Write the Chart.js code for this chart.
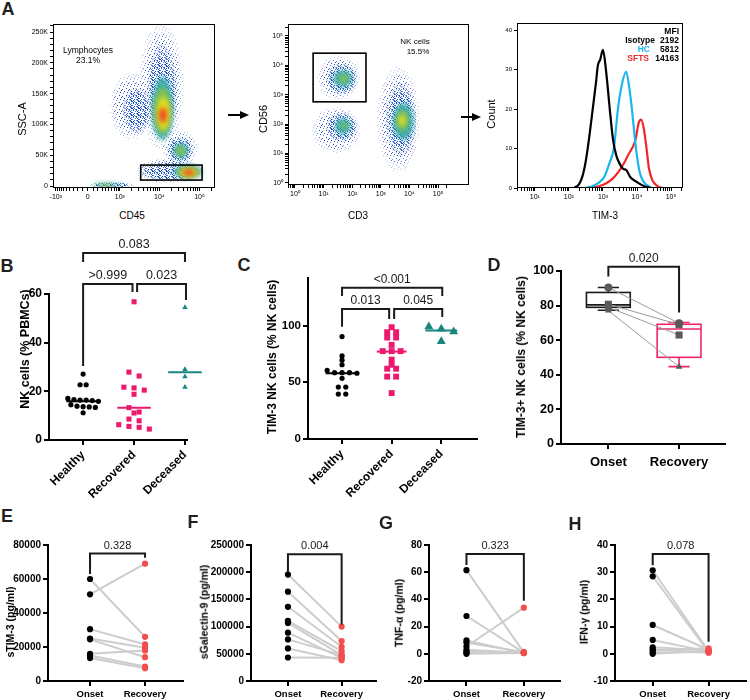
<!DOCTYPE html>
<html>
<head>
<meta charset="utf-8">
<script src="https://cdn.jsdelivr.net/npm/chart.js@4.4.1/dist/chart.umd.min.js"></script>
<style>
body{margin:0;background:#fff;width:750px;height:700px;position:relative;overflow:hidden;font-family:"Liberation Sans",Arial,sans-serif;}
canvas{position:absolute;}
.t{position:absolute;white-space:nowrap;line-height:1;}
</style>
</head>
<body>
<svg width="750" height="700" style="position:absolute;left:0;top:0">
<line x1="228" y1="115" x2="242" y2="115" stroke="#000" stroke-width="2"/>
<polygon points="249,115 240,111 240,119" fill="#000"/>
<line x1="461" y1="117" x2="474" y2="117" stroke="#000" stroke-width="2"/>
<polygon points="481,117 472,113 472,121" fill="#000"/>
</svg>
<script>
// ---------- A: flow plots ----------
// blobs: [xLow, xHigh, yLow, yHigh, density level 0..5]
const lymphBlobs = [
[3000,40000,60000,262000,0],[535,6850,75000,183000,0],[12000,90000,30000,90000,0],[2500,120000,5000,45000,0],
[4870,27500,75000,230000,1],[1200,6000,85000,160000,1],[15400,69000,37000,80000,1],[3230,114000,8000,40000,1],[37,2160,-3000,6500,1],
[6520,21800,75000,177000,2],[21800,51600,45000,70000,2],[21800,114000,13000,34000,2],[100,1200,-2000,4000,2],
[7500,19000,85000,160000,3],[26000,45000,50000,64000,3],[28000,100000,14000,31000,3],[178,650,-1500,3000,3],
[8640,18260,91000,144000,4],[32600,87000,14600,29000,4],
[9750,15400,102000,128000,5],[38000,75000,17000,27000,5]
];
const lymphGate = [3400,116000,9700,34000];
const nkBlobs = [
[6,186,660,22000,0],[4,186,10.5,380,0],[740,23000,2.2,8900,0],
[12,150,1000,12000,1],[12,150,25,250,1],[1500,17000,8,2500,1],
[22,100,1800,7000,2],[25,90,45,160,2],[2700,13500,29,525,2],
[35,70,2500,5000,3],[40,65,70,110,3],[3500,9000,60,300,3],
[4300,7000,90,200,4]
];
const nkGate = [4.3,302,575,26000];
const isoX = [141,200,251,316,398,501,631,708,832,1000,1259,1585,1995,2512,3162,3981,4786,6310,10000,15849,25119];
const isoY = [0,1,3,7,13,20,27,31,32.5,35,29,20,12,8,6,4.8,4.6,2.8,1.5,0.5,0];
const hcX = [316,501,794,1122,1585,2089,2754,3548,4786,6026,7079,9333,12023,15849,22387,28184];
const hcY = [0,0.5,1.5,3,6.5,10,20,26,29.5,25,20,10,4,1.5,0.4,0];
const sftsX = [398,794,1259,1995,2818,3981,5623,7079,8913,11220,13183,15849,19055,22387,28184,39811,56234];
const sftsY = [0,0.5,1.2,2.5,4,6,8.5,10,12,16.5,17.3,15,10,5,2,0.5,0];

// ---------- B, C: dot plots ----------
const groups = ['Healthy','Recovered','Deceased'];
const nkHealthy = [27.1,22.7,22.7,16.6,15.9,16.4,16.2,16.4,17.1,14.5,13.7,13.4,13.6,13.9,11.2];
const nkRecovered = [56.8,27.9,26.3,21.7,21.4,20.5,18.8,13.3,11.5,11.1,8.6,7.9,6.3,5.6,5.2,4.5];
const nkDeceased = [54.5,29,26,21.7];
const nkMedian = [15.9,13.3,27.8];
const timHealthy = [90.3,73.3,69.5,65.5,60.5,58.5,58.5,58.5,58,53.5,45.8,45.8,39.6,39.6];
const timRecovered = [98.6,94.2,94.2,89.5,89.5,83,77.5,77.5,77.5,70,65.5,62,62,55,55,40.5];
const timDeceased = [99.1,97.1,94.7,86];
const timMedian = [58.1,77.1,95.6];

// ---------- D: paired box plot ----------
const phases = ['Onset','Recovery'];
const dOnset = [90.5,80.8,79.0,77.1];
const dRecovery = [69.8,69.0,63.0,44.7];
const dMarkers = ['circle','rect','rect','triangle'];
const dBoxOnset = [77.3,79.0,80.4,87.6,90.5];      // min, q1, median, q3, max
const dBoxRecovery = [44.7,50.1,66.5,69.2,70.2];

// ---------- E-H: paired cytokines ----------
const eOnset = [60000,51000,30500,25000,24500,16000,15000,13500];
const eRecovery = [26000,69000,21500,19500,14000,18000,8500,7500];
const fOnset = [195700,164200,136400,110500,106800,88900,76500,59900,43200];
const fRecovery = [100000,73500,63000,54900,47500,42600,47500,38300,42600];
const gOnset = [61.5,27.8,9.8,8.3,5.4,2.9,1.7,0.5,0];
const gRecovery = [1.0,0.8,0.5,1.2,33.9,0.8,1.0,0.5,0.6];
const hOnset = [30.7,28.5,10.6,5.1,2.4,1.7,1.2,0.5,0];
const hRecovery = [1.0,0.6,1.5,0.8,1.2,0.4,2.0,0.7,1.1];

const FONT = '"Liberation Sans", Arial, Helvetica, sans-serif';
Chart.defaults.font.family = FONT;
Chart.defaults.color = '#000';
const PINK = '#ec1a6e', TEAL = '#17867e', REDDOT = '#f24e4e', GRAYLINE = '#cdcdcd';

function txt(s, x, y, o){
  o = o || {};
  const d = document.createElement('div');
  d.className = 't'; d.textContent = s;
  d.style.left = x+'px'; d.style.top = y+'px';
  d.style.fontSize = (o.size||12)+'px';
  d.style.fontWeight = o.bold ? 'bold' : 'normal';
  d.style.color = o.color || '#000';
  let tf = o.align==='right' ? 'translate(-100%,-50%)' : 'translate(-50%,-50%)';
  if(o.rot) tf += ' rotate(-90deg)';
  d.style.transform = tf;
  document.body.appendChild(d);
}

function makeChart(box, area, cfg){
  const c = document.createElement('canvas');
  c.width = box[2]; c.height = box[3];
  c.style.left = box[0]+'px'; c.style.top = box[1]+'px';
  document.body.appendChild(c);
  const o = cfg.options;
  o.responsive = false; o.animation = false; o.devicePixelRatio = 1;
  o.layout = {padding:{top:area[1]-box[1], right:box[0]+box[2]-area[2], left:0, bottom:0}};
  const yw = area[0]-box[0], xh = box[1]+box[3]-area[3];
  o.scales.x.afterFit = s => { s.height = xh; s.paddingLeft = 0; s.paddingRight = 0; };
  o.scales.y.afterFit = s => { s.width = yw; s.paddingTop = 0; s.paddingBottom = 0; };
  o.plugins = Object.assign({legend:{display:false}, tooltip:{enabled:false}}, o.plugins||{});
  return new Chart(c, cfg);
}

// ---------- plugins ----------
function framePlugin(){
  return {id:'frame', afterDraw(chart){
    const {ctx, chartArea:a} = chart;
    ctx.save(); ctx.strokeStyle='#000'; ctx.lineWidth=1;
    ctx.strokeRect(a.left+0.5, a.top+0.5, a.width-1, a.height-1); ctx.restore();
  }};
}
function gatePlugin(g, tx){
  return {id:'gate', afterDatasetsDraw(chart){
    const {ctx, scales:{x,y}} = chart;
    const x1=x.getPixelForValue(tx(g[0])), x2=x.getPixelForValue(tx(g[1]));
    const y1=y.getPixelForValue(g[2]), y2=y.getPixelForValue(g[3]);
    ctx.save(); ctx.strokeStyle='#000'; ctx.lineWidth=1.6;
    ctx.strokeRect(Math.min(x1,x2), Math.min(y1,y2), Math.abs(x2-x1), Math.abs(y2-y1)); ctx.restore();
  }};
}
function makePattern(ctx, dots){
  const c = document.createElement('canvas'); c.width = 7; c.height = 7;
  const g = c.getContext('2d');
  dots.forEach(p => { g.fillStyle = p[2]; g.fillRect(p[0], p[1], 1, 1); });
  return ctx.createPattern(c, 'repeat');
}
const sparseDots = [[1,1,'#2443c8'],[4,2,'#3d6fd8'],[2,5,'#2443c8'],[6,4,'#2443c8'],[5,6,'#5a8de0'],[3,3,'#2443c8']];
const denseDots = [[0,0,'#2443c8'],[2,0,'#3a78d8'],[4,1,'#2443c8'],[6,0,'#2443c8'],[1,2,'#2443c8'],[3,3,'#3a78d8'],
  [5,3,'#2443c8'],[0,4,'#3a78d8'],[2,5,'#2443c8'],[4,5,'#2a9cb8'],[6,6,'#2443c8'],[1,6,'#2443c8'],[5,5,'#2443c8'],[3,1,'#2a9cb8'],[6,2,'#3a78d8']];
const levelColors = [null, null, '#33aaa4', '#8fc740', '#f2e31b', '#ec3323'];
function densityPlugin(blobs, tx){
  return {id:'density', beforeDatasetsDraw(chart){
    const {ctx, chartArea:a, scales:{x,y}} = chart;
    const pats = [makePattern(ctx, sparseDots), makePattern(ctx, denseDots)];
    ctx.save(); ctx.beginPath(); ctx.rect(a.left, a.top, a.width, a.height); ctx.clip();
    blobs.slice().sort((p,q)=>p[4]-q[4]).forEach(b => {
      const x1=x.getPixelForValue(tx(b[0])), x2=x.getPixelForValue(tx(b[1]));
      const y1=y.getPixelForValue(b[2]), y2=y.getPixelForValue(b[3]);
      const lv = b[4], cx = (x1+x2)/2, cy = (y1+y2)/2, rx = Math.abs(x2-x1)/2, ry = Math.abs(y2-y1)/2;
      if(lv < 2){
        // soft edge: outer ring faint, inner full
        ctx.filter = 'none'; ctx.fillStyle = pats[lv];
        [[1.0,0.35],[0.86,0.65],[0.72,1]].forEach(([k,al]) => {
          ctx.globalAlpha = al; ctx.beginPath();
          ctx.ellipse(cx, cy, rx*k, ry*k, 0, 0, Math.PI*2); ctx.fill();
        });
      } else {
        ctx.filter = 'blur(2.5px)'; ctx.globalAlpha = 0.9; ctx.fillStyle = levelColors[lv];
        ctx.beginPath(); ctx.ellipse(cx, cy, rx, ry, 0, 0, Math.PI*2); ctx.fill();
      }
    });
    ctx.restore();
  }};
}
function bracketPlugin(items, size){
  return {id:'brackets', afterDatasetsDraw(chart){
    const {ctx, scales:{x,y}} = chart;
    ctx.save();
    ctx.strokeStyle='#1a1a1a'; ctx.fillStyle='#1a1a1a'; ctx.lineWidth=2;
    ctx.font = size+'px '+FONT; ctx.textAlign='center'; ctx.textBaseline='alphabetic';
    items.forEach(b => {
      const x1=x.getPixelForValue(b.x1), x2=x.getPixelForValue(b.x2), yt=y.getPixelForValue(b.y);
      ctx.beginPath();
      ctx.moveTo(x1, y.getPixelForValue(b.l1)); ctx.lineTo(x1, yt); ctx.lineTo(x2, yt); ctx.lineTo(x2, y.getPixelForValue(b.l2));
      ctx.stroke();
      ctx.fillText(b.text, (x1+x2)/2, yt-5);
    });
    ctx.restore();
  }};
}
function boxPlugin(boxes){
  return {id:'boxes', beforeDatasetsDraw(chart){
    const {ctx, scales:{x,y}} = chart;
    ctx.save(); ctx.lineWidth = 1.6;
    boxes.forEach(b => {
      const s = b.stats, px = v => x.getPixelForValue(v), py = v => y.getPixelForValue(v);
      const l = px(b.x-0.31), r = px(b.x+0.31), cl = px(b.x-0.15), cr = px(b.x+0.15), c = px(b.x);
      ctx.strokeStyle = b.color;
      ctx.strokeRect(l, py(s[3]), r-l, py(s[1])-py(s[3]));
      ctx.beginPath();
      ctx.moveTo(l, py(s[2])); ctx.lineTo(r, py(s[2]));
      ctx.moveTo(c, py(s[3])); ctx.lineTo(c, py(s[4]));
      ctx.moveTo(c, py(s[1])); ctx.lineTo(c, py(s[0]));
      ctx.moveTo(cl, py(s[4])); ctx.lineTo(cr, py(s[4]));
      ctx.moveTo(cl, py(s[0])); ctx.lineTo(cr, py(s[0]));
      ctx.stroke();
    });
    ctx.restore();
  }};
}

// ---------- axis builders ----------
const SUP = {'0':'\u2070','1':'\u00b9','2':'\u00b2','3':'\u00b3','4':'\u2074','5':'\u2075','-':'\u207b'};
function decadeLabel(v, lo, hi){
  const e = Math.log10(v);
  if(Math.abs(e-Math.round(e)) > 1e-9) return '';
  const r = Math.round(e);
  return (r < lo || r > hi) ? '' : '10'+SUP[String(r)];
}
function logTickList(lo, hi){
  const t = [];
  for(let e=-1; e<=6; e++) for(let k=1; k<10; k++){ const v = k*Math.pow(10,e); if(v>=lo && v<=hi) t.push(v); }
  return t;
}
function flowAxis(type, min, max, list, labelFn, size){
  return {type, min, max,
    afterBuildTicks: s => { s.ticks = list.map(v => ({value:v})); },
    ticks:{font:{family:FONT, size:size||7}, color:'#000', padding:2, autoSkip:false, maxRotation:0, minRotation:0, callback:v => labelFn(v)},
    grid:{display:true, drawOnChartArea:false, drawTicks:true, tickLength:3, color:'#000', lineWidth:1},
    border:{display:false}};
}
function prismY(min, max, list, size, fmt){
  return {type:'linear', min, max,
    afterBuildTicks: s => { s.ticks = list.map(v => ({value:v})); },
    ticks:{font:{family:FONT, size, weight:'bold'}, color:'#000', padding:2, autoSkip:false, callback:v => fmt ? fmt(v) : String(v)},
    grid:{display:true, drawOnChartArea:false, drawTicks:true, tickLength:5, color:'#000', lineWidth:2},
    border:{display:true, color:'#000', width:2}};
}
function prismX(min, max, cats, size, rot, pad){
  return {type:'linear', min, max,
    afterBuildTicks: s => { s.ticks = cats.map((c,i) => ({value:i+1})); },
    ticks:{font:{family:FONT, size, weight:'bold'}, color:'#000', padding:pad, autoSkip:false, minRotation:rot, maxRotation:rot,
      callback:v => cats[Math.round(v)-1]},
    grid:{display:true, drawOnChartArea:false, drawTicks:true, tickLength:5, color:'#000', lineWidth:2},
    border:{display:true, color:'#000', width:2}};
}
// rows of a scatter dot plot: values closer than thr share a row and are spread sideways
function swarm(vals, cx, thr, dx){
  const s = vals.slice().sort((a,b) => b-a), out = [];
  let i = 0;
  while(i < s.length){
    let j = i; while(j < s.length && s[i]-s[j] < thr) j++;
    const n = j-i;
    for(let k=0; k<n; k++) out.push({x:cx+(k-(n-1)/2)*dx, y:s[i+k]});
    i = j;
  }
  return out;
}
function dots(data, color, style, r){
  return {data, showLine:false, pointStyle:style, pointRadius:r, pointBackgroundColor:color, pointBorderColor:color, pointBorderWidth:0, clip:false, order:0};
}
function medianLine(x, m, hw, color){
  return {data:[{x:x-hw, y:m},{x:x+hw, y:m}], showLine:true, borderColor:color, borderWidth:2, pointRadius:0, clip:false, order:1};
}

// ---------- A1 ----------
const biexW = 326;
const biex = v => Math.asinh(v/biexW);
const a1Major = [-1000,0,1000,10000,100000];
const a1MajorLab = ['-10\u00b3','0','10\u00b3','10\u2074','10\u2075'];
const a1Minor = [];
[100,1000,10000].forEach(d => { for(let k=2;k<10;k++) a1Minor.push(k*d); });
[-100,-200,-300,-400,-500,-600,-700,-800,-900,100,200000].forEach(v => a1Minor.push(v));
const a1Ticks = a1Major.concat(a1Minor).map(biex);
const a1YTicks = []; for(let v=0; v<=260000; v+=10000) a1YTicks.push(v);
makeChart([20,10,210,200],[53,24,215,188],{
  type:'scatter', data:{datasets:[]},
  options:{scales:{
    x:flowAxis('linear', -2.0, 7.31, a1Ticks, v => { const i = a1Major.findIndex(m => Math.abs(biex(m)-v) < 1e-9); return i<0 ? '' : a1MajorLab[i]; }),
    y:flowAxis('linear', -3200, 263000, a1YTicks, v => v%50000===0 ? (v===0 ? '0' : (v/1000)+'K') : '')
  }},
  plugins:[densityPlugin(lymphBlobs, biex), gatePlugin(lymphGate, biex), framePlugin()]
});

// ---------- A2 ----------
const logId = v => v;
makeChart([255,10,230,200],[288,24,469,185],{
  type:'scatter', data:{datasets:[]},
  options:{scales:{
    x:flowAxis('logarithmic', 0.57, 1.2e6, logTickList(0.6, 2e5), v => decadeLabel(v,0,5)),
    y:flowAxis('logarithmic', 0.85, 256000, logTickList(1, 2e5), v => decadeLabel(v,0,5))
  }},
  plugins:[densityPlugin(nkBlobs, logId), gatePlugin(nkGate, logId), framePlugin()]
});

// ---------- A3 ----------
const histSet = (xs, ys, color) => ({data:xs.map((x,i) => ({x, y:ys[i]})), showLine:true, borderColor:color, borderWidth:2.2,
  pointRadius:0, cubicInterpolationMode:'monotone', fill:false});
makeChart([490,10,210,200],[517,23,683,188],{
  type:'scatter',
  data:{datasets:[histSet(isoX,isoY,'#000000'), histSet(hcX,hcY,'#1cb5ec'), histSet(sftsX,sftsY,'#f0262a')]},
  options:{scales:{
    x:flowAxis('logarithmic', 3, 224000, logTickList(3, 2e5), v => decadeLabel(v,1,5)),
    y:flowAxis('linear', 0, 41.8, [0,10,20,30,40], v => String(v), 6)
  }},
  plugins:[framePlugin()]
});

// ---------- B ----------
const bBrackets = [
  {x1:1, x2:3, y:76.9, l1:73.2, l2:73.2, text:'0.083'},
  {x1:1, x2:1.97, y:64.1, l1:30.4, l2:60.8, text:'>0.999'},
  {x1:2.06, x2:3.02, y:64.1, l1:60.8, l2:57.5, text:'0.023'}
];
makeChart([20,230,190,270],[49,294,187,440],{
  type:'scatter',
  data:{datasets:[
    dots(swarm(nkHealthy,1,2.0,0.12),'#000','circle',2.6),
    dots(swarm(nkRecovered,2,2.0,0.2),PINK,'rect',3.6),
    dots(swarm(nkDeceased,3,2.0,0.2),TEAL,'triangle',3.2),
    medianLine(1,nkMedian[0],0.33,'#000'), medianLine(2,nkMedian[1],0.33,PINK), medianLine(3,nkMedian[2],0.33,TEAL)
  ]},
  options:{scales:{x:prismX(0.33,3.04,groups,12,45,3), y:prismY(0,60,[0,20,40,60],12)}},
  plugins:[bracketPlugin(bBrackets,12.5)]
});

// ---------- C ----------
const cBrackets = [
  {x1:1, x2:3.02, y:133.5, l1:126.1, l2:126.1, text:'<0.001'},
  {x1:1, x2:1.95, y:114.7, l1:99.1, l2:105.9, text:'0.013'},
  {x1:2.05, x2:3.02, y:114.7, l1:105.9, l2:107.7, text:'0.045'}
];
makeChart([255,262,230,240],[308,278,477,439],{
  type:'scatter',
  data:{datasets:[
    dots(swarm(timHealthy,1,3.0,0.15),'#000','circle',2.6),
    dots(swarm(timRecovered,2,3.0,0.18),PINK,'rect',4.2),
    dots(swarm(timDeceased,3,5.0,0.25),TEAL,'triangle',5.2),
    medianLine(1,timMedian[0],0.33,'#000'), medianLine(2,timMedian[1],0.3,PINK), medianLine(3,timMedian[2],0.32,TEAL)
  ]},
  options:{scales:{x:prismX(0.314,3.72,groups,12,45,3), y:prismY(0,142,[0,50,100],11.5)}},
  plugins:[bracketPlugin(cBrackets,12)]
});

// ---------- D ----------
const dBrackets = [{x1:1, x2:2, y:102.5, l1:96.8, l2:76, text:'0.020'}];
const dSets = [{data:dOnset.map(v => ({x:1, y:v})).concat(dRecovery.map(v => ({x:2, y:v}))), showLine:false,
  pointStyle:dMarkers.concat(dMarkers), pointRadius:dMarkers.concat(dMarkers).map(m => m==='rect' ? 5 : 4),
  pointBackgroundColor:'#5a5a5a', pointBorderWidth:0, clip:false, order:0}];
dOnset.forEach((v,i) => dSets.push({data:[{x:1,y:v},{x:2,y:dRecovery[i]}], showLine:true, borderColor:'#9a9a9a', borderWidth:1, pointRadius:0, order:1}));
makeChart([495,245,250,240],[561,271,725,444],{
  type:'scatter', data:{datasets:dSets},
  options:{scales:{x:prismX(0.33,2.65,phases,13,0,6), y:prismY(0,100,[0,20,40,60,80,100],12.5)}},
  plugins:[boxPlugin([{x:1, stats:dBoxOnset, color:'#1a1a1a'},{x:2, stats:dBoxRecovery, color:'#f0246e'}]), bracketPlugin(dBrackets,12)]
});

// ---------- E-H ----------
function pairedChart(box, area, on, rec, ymin, ymax, yticks, xmin, xmax, brackets){
  const sets = [dots(on.map(v => ({x:1,y:v})),'#000','circle',3.1), dots(rec.map(v => ({x:2,y:v})),REDDOT,'circle',3.1)];
  on.forEach((v,i) => sets.push({data:[{x:1,y:v},{x:2,y:rec[i]}], showLine:true, borderColor:GRAYLINE, borderWidth:2, pointRadius:0, order:1}));
  makeChart(box, area, {
    type:'scatter', data:{datasets:sets},
    options:{scales:{x:prismX(xmin,xmax,phases,9.5,0,3), y:prismY(ymin,ymax,yticks,10)}},
    plugins:[bracketPlugin(brackets,11)]
  });
}
pairedChart([5,530,185,170],[48,545,183,681], eOnset, eRecovery, 0, 80000, [0,20000,40000,60000,80000], 0.236, 2.69,
  [{x1:1, x2:2, y:75000, l1:63000, l2:72500, text:'0.328'}]);
pairedChart([190,530,190,170],[251,545,383,681], fOnset, fRecovery, 0, 250000, [0,50000,100000,150000,200000,250000], 0.312, 2.64,
  [{x1:1, x2:2, y:233000, l1:200000, l2:104000, text:'0.004'}]);
pairedChart([375,530,190,170],[429,545,560,681], gOnset, gRecovery, -20, 80, [-20,0,20,40,60,80], 0.347, 2.63,
  [{x1:1, x2:2, y:73.4, l1:65.3, l2:39, text:'0.323'}]);
pairedChart([560,530,190,170],[615,545,748,681], hOnset, hRecovery, -10, 40, [-10,0,10,20,30,40], 0.325, 2.67,
  [{x1:1, x2:2, y:36.7, l1:32.6, l2:4.4, text:'0.078'}]);

// ---------- text ----------
const L = {size:18, bold:true, color:'#231f20'};
txt('A',8,9,L); txt('B',7,266,L); txt('C',244,265,L); txt('D',494,265,L);
txt('E',7,516,L); txt('F',193,522,L); txt('G',386,523,L); txt('H',575,524,L);
txt('SSC-A',22,119,{size:11,rot:true}); txt('CD45',132,216,{size:10});
txt('Lymphocytes',88,50,{size:8.5}); txt('23.1%',88,60,{size:8.5});
txt('CD56',263,119,{size:11,rot:true}); txt('CD3',358,216,{size:10});
txt('NK cells',415,42,{size:8}); txt('15.5%',418,52,{size:8});
txt('Count',491,114,{size:11,rot:true}); txt('TIM-3',605,216,{size:10});
txt('MFI',679,31,{size:8.5,bold:true,align:'right'});
txt('Isotype',655,40,{size:8.5,bold:true,align:'right'}); txt('2192',679,40,{size:8.5,bold:true,align:'right'});
txt('HC',650,49,{size:8.5,bold:true,align:'right',color:'#1cb5ec'}); txt('5812',679,49,{size:8.5,bold:true,align:'right'});
txt('SFTS',649,58,{size:8.5,bold:true,align:'right',color:'#f0262a'}); txt('14163',679,58,{size:8.5,bold:true,align:'right'});
txt('NK cells (% PBMCs)',25,349,{size:12.5,bold:true,rot:true});
txt('TIM-3 NK cells (% NK cells)',272,357,{size:12,bold:true,rot:true});
txt('TIM-3+ NK cells (% NK cells)',521,357,{size:12,bold:true,rot:true});
txt('sTIM-3 (pg/ml)',10,622,{size:10.5,bold:true,rot:true});
txt('sGalectin-9 (pg/ml)',204,612,{size:10.5,bold:true,rot:true});
txt('TNF-\u03b1 (pg/ml)',399,613,{size:10.5,bold:true,rot:true});
txt('IFN-\u03b3 (pg/ml)',584,612,{size:10.5,bold:true,rot:true});
</script>
</body>
</html>
